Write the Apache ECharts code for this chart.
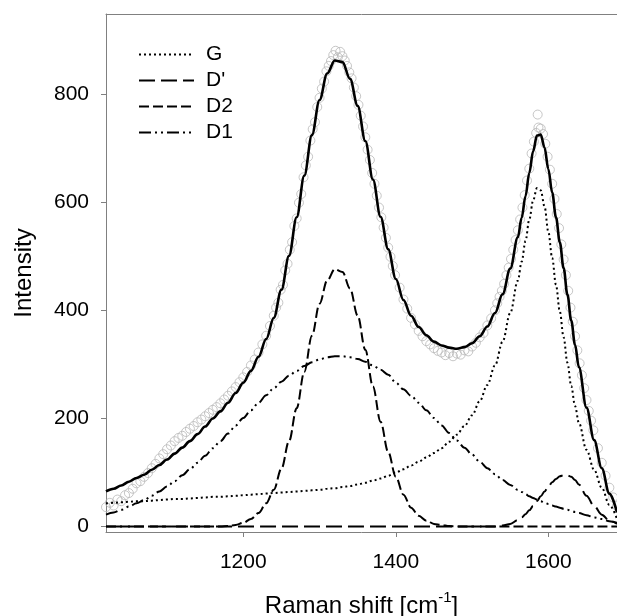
<!DOCTYPE html>
<html><head><meta charset="utf-8">
<script src="https://cdn.jsdelivr.net/npm/echarts@6/dist/echarts.min.js"></script>
<style>html,body{margin:0;padding:0;background:#fff}#c{width:617px;height:616px}</style>
</head><body><div id="c"></div>
<script>
// Raman shift grid for the fitted curves [cm-1]
const ramanShift = [1020,1030,1040,1050,1060,1070,1080,1090,1100,1110,1120,1130,1140,1150,1160,1170,1180,1190,1200,1210,1220,1230,1240,1250,1260,1270,1280,1290,1300,1310,1320,1330,1340,1350,1360,1370,1380,1390,1400,1410,1420,1430,1440,1450,1460,1470,1480,1490,1500,1510,1520,1530,1540,1550,1560,1565,1570,1575,1580,1585,1590,1595,1600,1605,1610,1615,1620,1625,1630,1635,1640,1650,1660,1670,1680,1690];
const gBand = [43,44,45,46,47,47,48,49,50,51,51,52,53,54,55,55,56,57,58,59,60,61,62,63,64,65,66,67,68,70,71,73,75,78,81,85,89,94,100,106,113,120,128,136,145,157,170,186,206,232,262,298,342,395,455,490,528,568,603,626,622,592,545,497,447,398,350,303,260,223,192,142,105,72,40,14];
const dPrimeBand = [0,0,0,0,0,0,0,0,0,0,0,0,0,0,0,0,0,0,0,0,0,0,0,0,0,0,0,0,0,0,0,0,0,0,0,0,0,0,0,0,0,0,0,0,0,0,0,0,0,0,0,0,2,5,12,17,23,30,38,47,56,65,74,82,88,93,95,95,92,86,78,57,38,22,11,5];
const d2Band = [0,0,0,0,0,0,0,0,0,0,0,0,0,0,0,0,1,3,7,14,25,43,68,107,158,219,286,353,412,455,476,471,440,390,327,259,194,138,92,59,35,20,11,5,3,1,0,0,0,0,0,0,0,0,0,0,0,0,0,0,0,0,0,0,0,0,0,0,0,0,0,0,0,0,0,0];
const d1Band = [22,26,31,37,43,49,57,65,74,84,95,106,118,131,145,158,172,187,201,215,229,243,256,268,279,288,297,304,309,313,315,315,313,310,305,298,290,281,266,254,242,229,215,201,187,173,159,146,133,120,108,97,86,77,68,64,60,56,53,50,47,44,42,39,37,35,33,31,29,27,25,21,17,14,10,7];
const fitTotal = [65,70,76,83,90,96,105,114,124,135,146,158,171,185,200,213,229,247,266,288,314,347,386,438,501,572,649,724,789,838,862,859,828,778,713,642,573,513,458,419,390,369,354,342,335,331,329,332,339,352,370,395,430,477,535,571,611,654,694,723,725,701,661,618,572,526,478,429,381,336,295,220,160,108,61,26];

// Measured spectrum
const obsShift = [1020,1025,1030,1035,1040,1045,1050,1055,1060,1065,1070,1075,1080,1085,1090,1095,1100,1105,1110,1115,1120,1125,1130,1135,1140,1145,1150,1155,1160,1165,1170,1175,1180,1185,1190,1195,1200,1205,1210,1215,1220,1225,1230,1235,1240,
1243,1246,1249,1252,1255,1258,1261,1264,1267,1270,1273,1276,1279,1282,1285,1288,1291,1294,1297,1300,1303,1306,1309,1312,1315,1318,1321,1324,1327,1330,1333,1336,1339,1342,1345,1348,1351,1354,1357,1360,1363,1366,1369,1372,1375,1378,1381,1384,1387,1390,1393,1396,1399,
1405,1410,1415,1420,1425,1430,1435,1440,1445,1450,1455,1460,1465,1470,1475,1480,1485,1490,1495,1500,1505,1510,1515,1520,1525,1530,
1533,1536,1539,1542,1545,1548,1551,1554,1557,1560,1563,1566,1569,1572,1575,1578,1581,1584,1586,1587,1590,1593,1596,1599,1602,1605,1608,1611,1614,1617,1620,1623,1626,1629,1632,1635,1638,1641,1644,1647,1650,1653,1656,1659,
1665,1670,1675,1680,1685,1690];
const obsIntensity = [36,44,39,50,47,58,62,70,80,84,92,99,108,116,126,134,143,150,158,164,168,175,181,186,193,198,204,210,216,221,228,235,242,250,258,267,276,286,298,309,322,337,353,371,390,
405,414,438,447,474,486,512,526,556,570,599,615,646,668,684,714,735,748,776,793,810,823,842,852,861,872,880,868,878,870,862,852,840,829,812,796,780,760,740,720,697,678,654,634,612,590,572,553,534,516,499,482,465,
442,420,403,386,374,362,352,343,337,330,325,322,317,321,315,320,318,326,324,333,340,350,358,372,385,400,
413,425,436,449,465,479,495,512,530,548,568,590,613,640,662,690,712,728,762,738,736,726,708,684,660,634,606,578,552,522,494,465,436,405,379,352,326,302,280,256,234,214,196,178,
145,118,94,72,54,38];

const xTicks = [1200,1400,1600];
const yTicks = [0,200,400,600,800];

const FONT = 'Liberation Sans, Arial, sans-serif';
const pair = (ys) => ramanShift.map((x, i) => [x, ys[i]]);
const comp = (name, data, dash) => ({
  name, type: 'line', data: pair(data), symbol: 'none', showSymbol: false,
  smooth: 0.35, smoothMonotone: 'x',
  itemStyle: { color: 'rgba(0,0,0,0)', borderColor: 'rgba(0,0,0,0)' },
  lineStyle: { color: '#000', width: 2, type: dash, cap: 'butt' },
  z: 3
});

const chart = echarts.init(document.getElementById('c'), null, { renderer: 'canvas' });
chart.setOption({
  animation: false,
  backgroundColor: '#fff',
  grid: { left: 106, right: 0, top: 14, bottom: 84, containLabel: false, outerBoundsMode: 'none' },
  legend: {
    orient: 'vertical', left: 133, top: 39,
    itemWidth: 55, itemHeight: 20, itemGap: 5,
    data: ['G', "D'", 'D2', 'D1'],
    itemStyle: { opacity: 0 },
    textStyle: { fontFamily: FONT, fontSize: 21, color: '#000', padding: [0, 0, 0, 7] },
    selectedMode: false
  },
  xAxis: [{
    type: 'value', min: 1020, max: 1690,
    name: '{a|Raman shift [cm}{s|-1}{a|]}', nameLocation: 'middle', nameGap: 58,
    nameTextStyle: {
      rich: {
        a: { fontFamily: FONT, fontSize: 24, color: '#000', verticalAlign: 'bottom', lineHeight: 28 },
        s: { fontFamily: FONT, fontSize: 15, color: '#000', verticalAlign: 'top', lineHeight: 28, padding: [0, 0, 12, 0] }
      }
    },
    axisLine: { show: true, onZero: false, lineStyle: { color: '#808080', width: 1 } },
    axisTick: { show: true, length: 5, customValues: xTicks, lineStyle: { color: '#808080' } },
    axisLabel: { customValues: xTicks, formatter: v => String(v), margin: 20, fontFamily: FONT, fontSize: 21, color: '#000' },
    splitLine: { show: false }
  }, {
    type: 'value', min: 1020, max: 1690, position: 'top',
    axisLine: { show: true, onZero: false, lineStyle: { color: '#808080', width: 1 } },
    axisTick: { show: false }, axisLabel: { show: false }, splitLine: { show: false }
  }],
  yAxis: {
    type: 'value', min: -10, max: 948,
    name: 'Intensity', nameLocation: 'middle', nameGap: 70,
    nameTextStyle: { fontFamily: FONT, fontSize: 24, color: '#000' },
    axisLine: { show: true, onZero: false, lineStyle: { color: '#808080', width: 1 } },
    axisTick: { show: true, length: 5, customValues: yTicks, lineStyle: { color: '#808080' } },
    axisLabel: { customValues: yTicks, formatter: v => String(v), margin: 17, fontFamily: FONT, fontSize: 21, color: '#000' },
    splitLine: { show: false }
  },
  series: [
    {
      name: 'data', type: 'scatter', data: obsShift.map((x, i) => [x, obsIntensity[i]]),
      symbol: 'circle', symbolSize: 9,
      itemStyle: { color: 'rgba(0,0,0,0)', borderColor: '#b8b8b8', borderWidth: 1 },
      z: 1, silent: true
    },
    comp('G', gBand, [2, 3]),
    comp("D'", dPrimeBand, [16, 6]),
    comp('D2', d2Band, [10, 4]),
    comp('D1', d1Band, [12, 4, 2, 4, 2, 4]),
    {
      name: 'fit', type: 'line', data: pair(fitTotal), symbol: 'none', showSymbol: false,
      smooth: 0.35, smoothMonotone: 'x',
      lineStyle: { color: '#000', width: 2.6 }, z: 4
    }
  ]
});
</script>
</body></html>
